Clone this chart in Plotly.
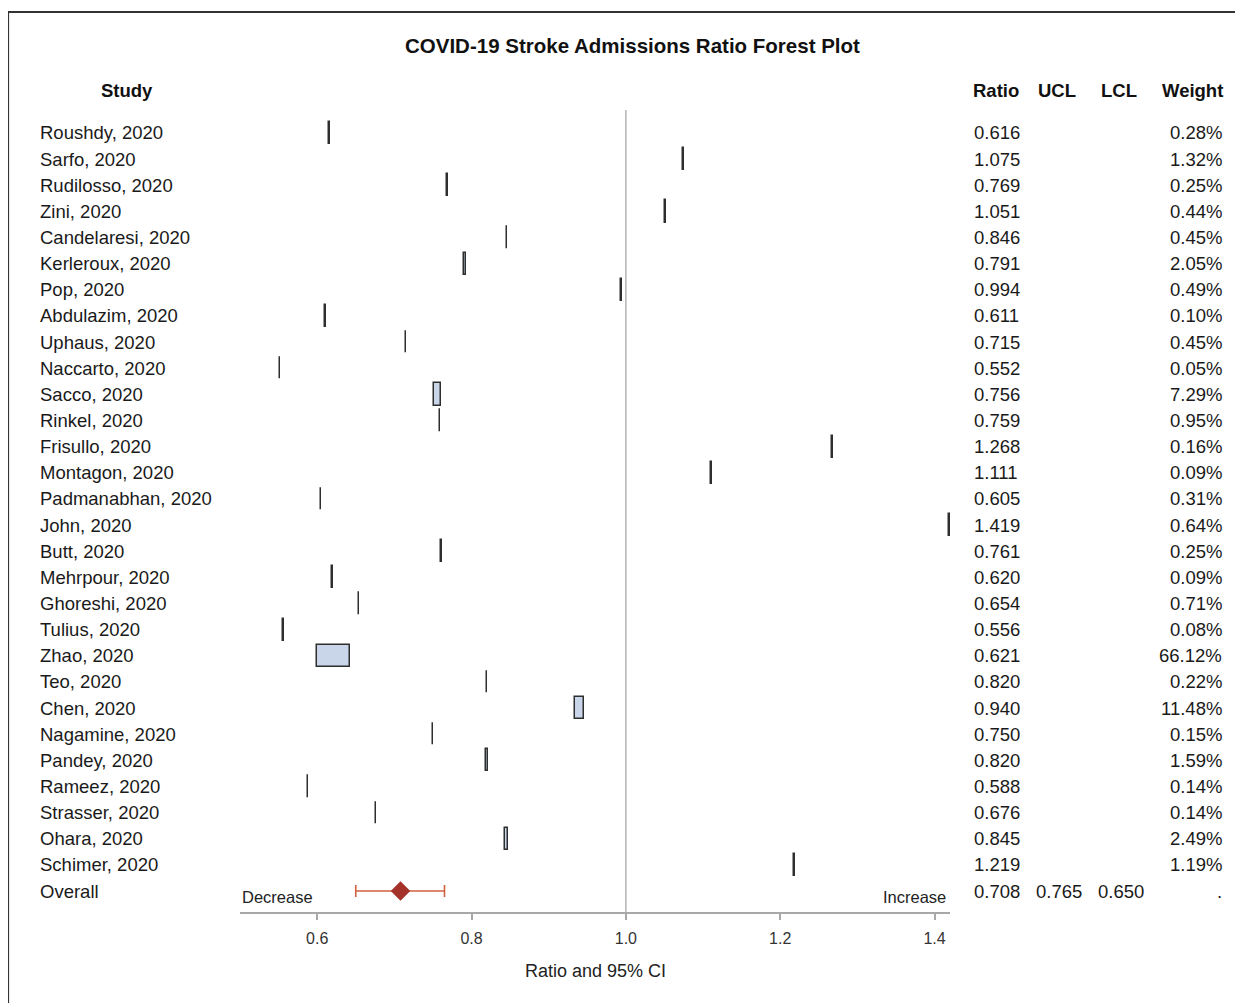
import plotly.graph_objects as go

studies = ["Roushdy, 2020", "Sarfo, 2020", "Rudilosso, 2020", "Zini, 2020", "Candelaresi, 2020",
           "Kerleroux, 2020", "Pop, 2020", "Abdulazim, 2020", "Uphaus, 2020", "Naccarto, 2020",
           "Sacco, 2020", "Rinkel, 2020", "Frisullo, 2020", "Montagon, 2020", "Padmanabhan, 2020",
           "John, 2020", "Butt, 2020", "Mehrpour, 2020", "Ghoreshi, 2020", "Tulius, 2020",
           "Zhao, 2020", "Teo, 2020", "Chen, 2020", "Nagamine, 2020", "Pandey, 2020",
           "Rameez, 2020", "Strasser, 2020", "Ohara, 2020", "Schimer, 2020"]
ratios = [0.616, 1.075, 0.769, 1.051, 0.846, 0.791, 0.994, 0.611, 0.715, 0.552,
          0.756, 0.759, 1.268, 1.111, 0.605, 1.419, 0.761, 0.620, 0.654, 0.556,
          0.621, 0.820, 0.940, 0.750, 0.820, 0.588, 0.676, 0.845, 1.219]
weights = [0.28, 1.32, 0.25, 0.44, 0.45, 2.05, 0.49, 0.10, 0.45, 0.05,
           7.29, 0.95, 0.16, 0.09, 0.31, 0.64, 0.25, 0.09, 0.71, 0.08,
           66.12, 0.22, 11.48, 0.15, 1.59, 0.14, 0.14, 2.49, 1.19]
overall_label = "Overall"
overall_ratio = 0.708
overall_ucl = 0.765
overall_lcl = 0.650
tick_vals = [0.6, 0.8, 1.0, 1.2, 1.4]
tick_text = ["0.6", "0.8", "1.0", "1.2", "1.4"]

W, H = 1243, 1003
OFF = 8  # page body margin
FONT = "Liberation Sans, Arial, sans-serif"
XR = [0.5, 1.42]
XPX = (240, 950)
px_per_unit = (XPX[1] - XPX[0]) / (XR[1] - XR[0])
n = len(studies)
rows = list(range(n))
overall_row = n
YTOP_PX, YBOT_PX = 110, 912
ROW0_PX, ROW_STEP = 133, 26.14
y_top = (YTOP_PX - ROW0_PX) / ROW_STEP
y_bot = (YBOT_PX - ROW0_PX) / ROW_STEP


def px(xp):
    return (xp - OFF) / W


def py(yp):
    return 1 - (yp - OFF) / H


# box widths (pixels) scale with weight
box_w = [max(2.18 * w ** 0.664 - 1.5, 0.6) / px_per_unit for w in weights]
box_base = [r - bw / 2 for r, bw in zip(ratios, box_w)]

fig = go.Figure()

# reference line at 1.0
fig.add_trace(go.Scatter(x=[1.0, 1.0], y=[y_bot, y_top], mode="lines",
                         line=dict(color="#b5b5b5", width=1.5), hoverinfo="skip",
                         showlegend=False))

fig.add_trace(go.Bar(orientation="h", y=rows, x=box_w, base=box_base, width=0.85,
                     marker=dict(color="#c9d5e8", line=dict(color="#2e2e2e", width=1.5)),
                     showlegend=False))

fig.add_trace(go.Scatter(x=[overall_ratio], y=[overall_row], mode="markers",
                         marker=dict(symbol="diamond", size=15, color="#a5322a"),
                         error_x=dict(type="data", symmetric=False,
                                      array=[overall_ucl - overall_ratio],
                                      arrayminus=[overall_ratio - overall_lcl],
                                      color="#d0613f", thickness=1.6, width=6),
                         showlegend=False))

ann = []
tf = dict(family=FONT, size=18.5, color="#1a1a1a")
hf = dict(family=FONT, size=18.5, color="#111111")
PADL, PADR = -2, 1

ann.append(dict(x=px(632), y=py(46), xref="paper", yref="paper", text="<b>COVID-19 Stroke Admissions Ratio Forest Plot</b>",
                showarrow=False, xanchor="center", yanchor="middle", font=dict(family=FONT, size=20.5, color="#111")))
ann.append(dict(x=px(127), y=py(90), xref="paper", yref="paper", text="<b>Study</b>",
                showarrow=False, xanchor="center", yanchor="middle", font=hf))
for label, xp, anchor in [("Ratio", 973 + PADL, "left"), ("UCL", 1038 + PADL, "left"),
                          ("LCL", 1101 + PADL, "left"), ("Weight", 1224 + PADR, "right")]:
    ann.append(dict(x=px(xp), y=py(90), xref="paper", yref="paper", text="<b>%s</b>" % label,
                    showarrow=False, xanchor=anchor, yanchor="middle", font=hf))

labels = studies + [overall_label]
for i, s in enumerate(labels):
    ann.append(dict(x=px(40 + PADL), y=i, xref="paper", yref="y", text=s, showarrow=False,
                    xanchor="left", yanchor="middle", font=tf))
ratio_txt = ["%.3f" % r for r in ratios] + ["%.3f" % overall_ratio]
weight_txt = ["%.2f%%" % w for w in weights] + ["."]
for i in range(n + 1):
    ann.append(dict(x=px(974 + PADL), y=i, xref="paper", yref="y", text=ratio_txt[i], showarrow=False,
                    xanchor="left", yanchor="middle", font=tf))
    ann.append(dict(x=px(1223 + PADR), y=i, xref="paper", yref="y", text=weight_txt[i], showarrow=False,
                    xanchor="right", yanchor="middle", font=tf))
ann.append(dict(x=px(1036 + PADL), y=overall_row, xref="paper", yref="y", text="%.3f" % overall_ucl, showarrow=False,
                xanchor="left", yanchor="middle", font=tf))
ann.append(dict(x=px(1098 + PADL), y=overall_row, xref="paper", yref="y", text="%.3f" % overall_lcl, showarrow=False,
                xanchor="left", yanchor="middle", font=tf))

ann.append(dict(x=px(242 + PADL), y=overall_row + 0.23, xref="paper", yref="y", text="Decrease", showarrow=False,
                xanchor="left", yanchor="middle", font=dict(family=FONT, size=16.5, color="#222")))
ann.append(dict(x=px(947 + PADR), y=overall_row + 0.23, xref="paper", yref="y", text="Increase", showarrow=False,
                xanchor="right", yanchor="middle", font=dict(family=FONT, size=16.5, color="#222")))
ann.append(dict(x=px(595), y=py(971), xref="paper", yref="paper", text="Ratio and 95% CI", showarrow=False,
                xanchor="center", yanchor="middle", font=dict(family=FONT, size=18, color="#222")))

fig.update_layout(
    width=W, height=H, margin=dict(l=0, r=0, t=0, b=0),
    paper_bgcolor="white", plot_bgcolor="white",
    annotations=ann,
    shapes=[dict(type="rect", xref="paper", yref="paper", x0=px(8), x1=1.05, y0=-0.05, y1=py(12),
                 line=dict(color="#333333", width=2.2), fillcolor="rgba(0,0,0,0)", layer="below")],
    xaxis=dict(domain=[px(XPX[0]), px(XPX[1])], range=XR, showgrid=False, zeroline=False,
               showline=True, linecolor="#a8a8a8", linewidth=2, ticks="outside", ticklen=6,
               tickcolor="#a8a8a8", tickwidth=1.5, tickvals=tick_vals, ticktext=tick_text,
               ticklabelstandoff=5,
               tickfont=dict(family=FONT, size=16, color="#333")),
    yaxis=dict(domain=[py(YBOT_PX), py(YTOP_PX)], range=[y_bot, y_top], visible=False),
    bargap=0,
)

fig.write_html("out.html")
